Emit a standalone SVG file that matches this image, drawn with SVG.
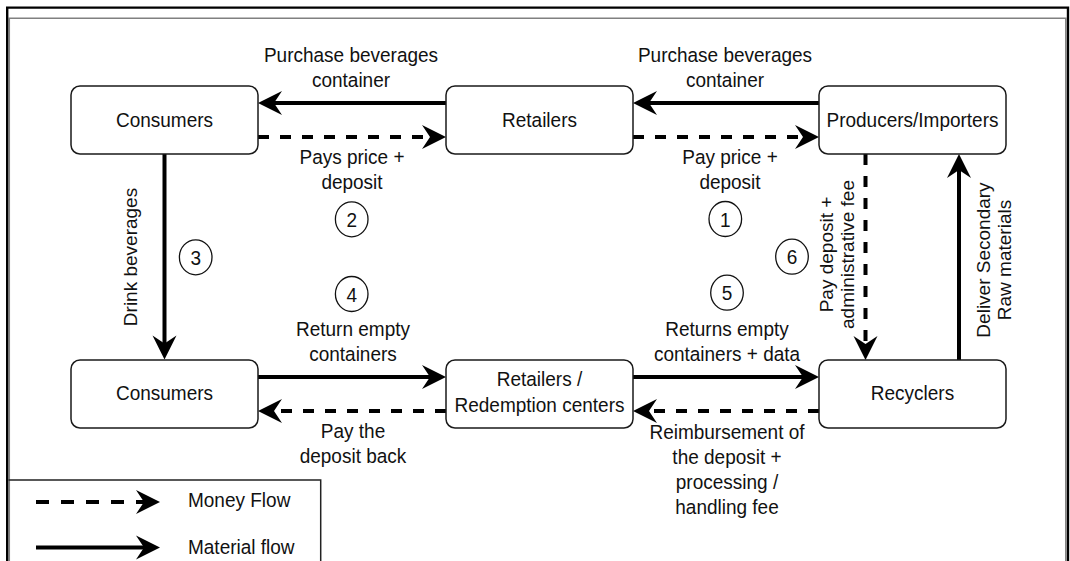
<svg xmlns="http://www.w3.org/2000/svg" width="1070" height="561" viewBox="0 0 1070 561">
<style>
text{font-family:"Liberation Sans",Arial,sans-serif;font-size:19px;fill:#111;text-anchor:middle}
text:not(.rot){transform-box:fill-box;transform-origin:50% 50%;transform:scaleY(1.09)}
.box{fill:#fff;stroke:#1a1a1a;stroke-width:1.5}
.solid{fill:none;stroke:#000;stroke-width:4;marker-end:url(#ah)}
.dash{fill:none;stroke:#000;stroke-width:4;stroke-dasharray:11 11;marker-end:url(#ah)}
.num{fill:none;stroke:#111;stroke-width:1.3}
.leg{text-anchor:start}
</style>
<defs>
<marker id="ah" viewBox="0 0 26 26" refX="16" refY="13" markerWidth="26" markerHeight="26" orient="auto" markerUnits="userSpaceOnUse">
<path d="M26,13 L2,1 L10,13 L2,25 Z" fill="#000"/>
</marker>
</defs>
<rect width="1070" height="561" fill="#fff"/>
<g id="frame" fill="none">
<path d="M9.3,561 V18.3 H1065.8 V561" stroke="#808080" stroke-width="1.5"/>
<path d="M7.2,561 V7.6 H1068 V561" stroke="#000" stroke-width="2.4"/>
</g>
<g id="legend">
<path d="M8.5,480 H320.7 V561" fill="none" stroke="#222" stroke-width="1.5"/>
<path d="M36,502 H150" class="dash" style="stroke-dasharray:13 12"/>
<path d="M36,547.5 H150" class="solid"/>
<text class="leg" x="188" y="506">Money Flow</text>
<text class="leg" x="188" y="553">Material flow</text>
</g>
<g id="connectors">
<path d="M446,103 H268" class="solid"/>
<path d="M258,137 H436" class="dash"/>
<path d="M819,103 H643" class="solid"/>
<path d="M633,137 H809" class="dash"/>
<path d="M164.5,154 V349.5" class="solid"/>
<path d="M258,377 H436" class="solid"/>
<path d="M446,411 H268" class="dash"/>
<path d="M633,377 H809" class="solid"/>
<path d="M819,411 H643" class="dash"/>
<path d="M865.5,154 V350" class="dash"/>
<path d="M959,360 V164" class="solid"/>
</g>
<g id="labels">
<text x="351" y="61">Purchase beverages</text>
<text x="351" y="86">container</text>
<text x="725" y="61">Purchase beverages</text>
<text x="725" y="86">container</text>
<text x="352" y="163.5">Pays price +</text>
<text x="352" y="188.5">deposit</text>
<text x="730" y="163.5">Pay price +</text>
<text x="730" y="188.5">deposit</text>
<text x="353" y="335">Return empty</text>
<text x="353" y="360">containers</text>
<text x="727" y="335">Returns empty</text>
<text x="727" y="360">containers + data</text>
<text x="353" y="437.5">Pay the</text>
<text x="353" y="462">deposit back</text>
<text x="727" y="438.3">Reimbursement of</text>
<text x="727" y="463.3">the deposit +</text>
<text x="727" y="488.3">processing /</text>
<text x="727" y="513.3">handling fee</text>
<text class="rot" transform="translate(137,257) rotate(-90)">Drink beverages</text>
<text class="rot" transform="translate(833,254.5) rotate(-90)">Pay deposit +</text>
<text class="rot" transform="translate(854,254.5) rotate(-90)">administrative fee</text>
<text class="rot" transform="translate(989.5,260) rotate(-90)">Deliver Secondary</text>
<text class="rot" transform="translate(1010.5,260) rotate(-90)">Raw materials</text>
</g>
<g id="steps">
<g id="step1"><ellipse class="num" cx="725.3" cy="219" rx="16.3" ry="17.5"/><text x="725.3" y="226">1</text></g>
<g id="step2"><ellipse class="num" cx="351.7" cy="219.3" rx="16.3" ry="17.5"/><text x="351.7" y="226.3">2</text></g>
<g id="step3"><ellipse class="num" cx="195.7" cy="257.3" rx="16.3" ry="17.5"/><text x="195.7" y="264.3">3</text></g>
<g id="step4"><ellipse class="num" cx="351.7" cy="294" rx="16.3" ry="17.5"/><text x="351.7" y="301">4</text></g>
<g id="step5"><ellipse class="num" cx="727" cy="292.7" rx="16.3" ry="17.5"/><text x="727" y="299.7">5</text></g>
<g id="step6"><ellipse class="num" cx="792" cy="256.7" rx="16.3" ry="17.5"/><text x="792" y="263.7">6</text></g>
</g>
<g id="consumers-top"><rect class="box" x="71" y="86" width="187" height="68" rx="9"/><text x="164.5" y="126">Consumers</text></g>
<g id="retailers-top"><rect class="box" x="446" y="86" width="187" height="68" rx="9"/><text x="539.5" y="126">Retailers</text></g>
<g id="producers"><rect class="box" x="819" y="86" width="187" height="68" rx="9"/><text x="912.5" y="126">Producers/Importers</text></g>
<g id="consumers-bottom"><rect class="box" x="71" y="360" width="187" height="68" rx="9"/><text x="164.5" y="399">Consumers</text></g>
<g id="redemption"><rect class="box" x="446" y="360" width="187" height="68" rx="9"/><text x="539.5" y="385">Retailers /</text><text x="539.5" y="411">Redemption centers</text></g>
<g id="recyclers"><rect class="box" x="819" y="360" width="187" height="68" rx="9"/><text x="912.5" y="399">Recyclers</text></g>
</svg>
